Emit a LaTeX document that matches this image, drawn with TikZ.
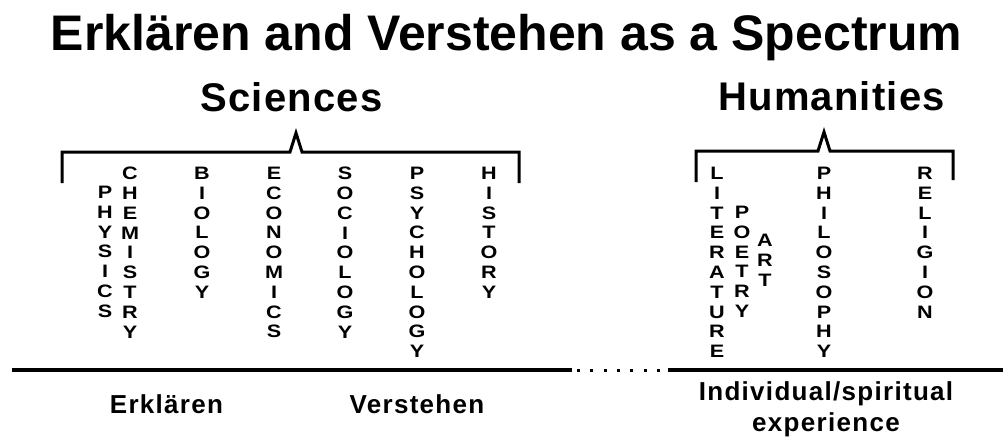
\documentclass[tikz,border=0pt]{standalone}
\usepackage{fontspec}
\setmainfont{Liberation Sans}
\newfontfamily\stackfont{Liberation Sans}[FakeStretch=1.2]
\newfontfamily\groupfont{Liberation Sans}[LetterSpace=3]
\newfontfamily\bottomfont{Liberation Sans}[LetterSpace=5]
\begin{document}
\begin{tikzpicture}[x=1pt,y=-1pt,
  titletext/.style={font=\bfseries\fontsize{50pt}{60pt}\selectfont, anchor=base, inner sep=0pt},
  grouptext/.style={font=\groupfont\bfseries\fontsize{40pt}{48pt}\selectfont, anchor=base, inner sep=0pt},
  vword/.style={font=\stackfont\bfseries\fontsize{18pt}{19.8pt}\selectfont, anchor=north, inner sep=0pt, align=center},
  bottomtext/.style={font=\bottomfont\bfseries\fontsize{26pt}{31pt}\selectfont, inner sep=0pt, align=center},
  bracket/.style={line width=3pt, line join=miter, miter limit=10},
  axisline/.style={line width=3.5pt},
  dotline/.style={line width=3pt, dash pattern=on 3pt off 10.3pt}
]
\useasboundingbox (0,0) rectangle (1008,440);

% title and group names
\node[titletext] (title) at (506.5,50) {Erklären and Verstehen as a Spectrum};
\node[grouptext] (sciences) at (291.5,111) {Sciences};
\node[grouptext] (humanities) at (831.5,110) {Humanities};

% sciences bracket
\coordinate (sL) at (62,183);
\coordinate (sL1) at (62,152);
\coordinate (sP1) at (290,152);
\coordinate (sPk) at (296,133);
\coordinate (sP2) at (302,152);
\coordinate (sR1) at (519,152);
\coordinate (sR) at (519,183);
\draw[bracket] (sL) -- (sL1) -- (sP1) -- (sPk) -- (sP2) -- (sR1) -- (sR);

% humanities bracket
\coordinate (hL) at (696,182);
\coordinate (hL1) at (696,151);
\coordinate (hP1) at (818,151);
\coordinate (hPk) at (824,132);
\coordinate (hP2) at (830,151);
\coordinate (hR1) at (953,151);
\coordinate (hR) at (953,180);
\draw[bracket] (hL) -- (hL1) -- (hP1) -- (hPk) -- (hP2) -- (hR1) -- (hR);

% sciences disciplines
\node[vword] (physics) at (105,186) {P\\H\\Y\\S\\I\\C\\S};
\node[vword] (chemistry) at (130,167) {C\\H\\E\\M\\I\\S\\T\\R\\Y};
\node[vword] (biology) at (202,167) {B\\I\\O\\L\\O\\G\\Y};
\node[vword] (economics) at (274,167) {E\\C\\O\\N\\O\\M\\I\\C\\S};
\node[vword] (sociology) at (345,167) {S\\O\\C\\I\\O\\L\\O\\G\\Y};
\node[vword] (psychology) at (417,167) {P\\S\\Y\\C\\H\\O\\L\\O\\G\\Y};
\node[vword] (history) at (489,167) {H\\I\\S\\T\\O\\R\\Y};

% humanities disciplines
\node[vword] (literature) at (717,167) {L\\I\\T\\E\\R\\A\\T\\U\\R\\E};
\node[vword] (poetry) at (742,206) {P\\O\\E\\T\\R\\Y};
\node[vword] (art) at (765,234) {A\\R\\T};
\node[vword] (philosophy) at (824,167) {P\\H\\I\\L\\O\\S\\O\\P\\H\\Y};
\node[vword] (religion) at (925,167) {R\\E\\L\\I\\G\\I\\O\\N};

% spectrum axis
\coordinate (aL) at (12,370);
\coordinate (aM1) at (572,370);
\coordinate (d1) at (577,370);
\coordinate (d2) at (661,370);
\coordinate (aM2) at (668,370);
\coordinate (aR) at (1003,370);
\draw[axisline] (aL) -- (aM1);
\draw[dotline] (d1) -- (d2);
\draw[axisline] (aM2) -- (aR);

% bottom labels
\node[bottomtext, anchor=base] (erklaeren) at (166.5,413) {Erklären};
\node[bottomtext, anchor=base] (verstehen) at (417,413) {Verstehen};
\node[bottomtext, anchor=north] (experience) at (826,381) {Individual/spiritual\\experience};
\end{tikzpicture}
\end{document}
